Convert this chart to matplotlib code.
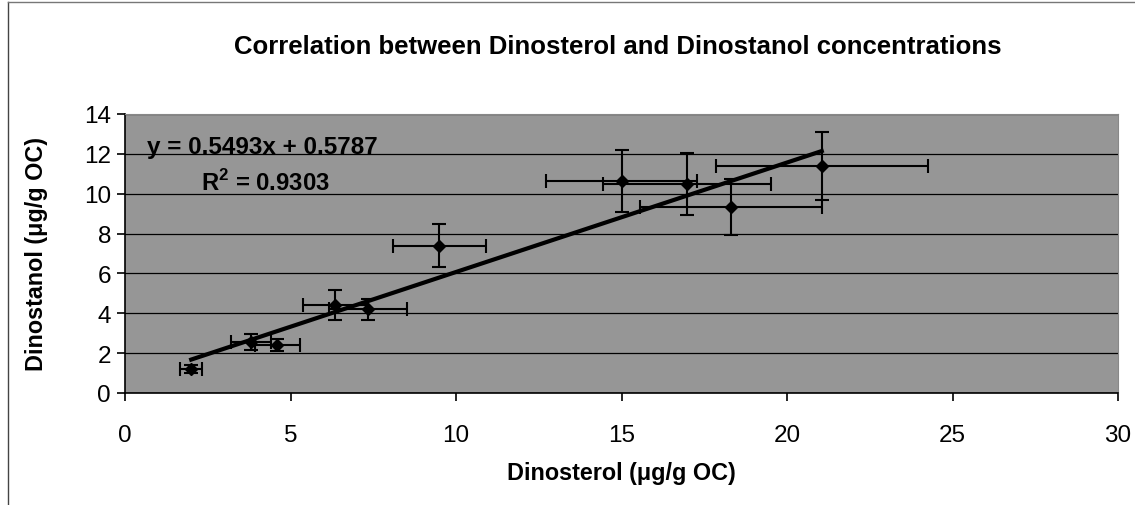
import matplotlib
matplotlib.use("Agg")
import matplotlib.pyplot as plt
import numpy as np
from matplotlib.lines import Line2D

plt.rcParams['font.family'] = ['Liberation Sans', 'DejaVu Sans']
plt.rcParams['mathtext.fontset'] = 'custom'
plt.rcParams['mathtext.rm'] = 'Liberation Sans:bold'
plt.rcParams['mathtext.bf'] = 'Liberation Sans:bold'

# Dinosterol vs Dinostanol (µg/g OC) with standard deviations
dinosterol = [2.0, 3.8, 4.6, 6.35, 7.35, 9.5, 15.0, 16.97, 18.3, 21.05]
dinostanol = [1.2, 2.55, 2.4, 4.4, 4.2, 7.4, 10.65, 10.5, 9.35, 11.4]
dinosterol_sd = [0.33, 0.6, 0.68, 0.96, 1.18, 1.41, 2.28, 2.54, 2.75, 3.2]
dinostanol_sd = [0.2, 0.4, 0.3, 0.75, 0.52, 1.1, 1.55, 1.55, 1.4, 1.7]

slope, intercept, r2 = 0.5493, 0.5787, 0.9303

x_ticks = [0, 5, 10, 15, 20, 25, 30]
y_ticks = [0, 2, 4, 6, 8, 10, 12, 14]

fig = plt.figure(figsize=(11.35, 5.06), dpi=100)
fig.patch.set_facecolor('white')

# chart frame
fig.add_artist(Line2D([8/1135, 8/1135], [0, 1 - 3/506], transform=fig.transFigure,
                      color='#444444', lw=1))
fig.add_artist(Line2D([8/1135, 1], [1 - 3/506, 1 - 3/506], transform=fig.transFigure,
                      color='#777777', lw=1))

ax = fig.add_axes([125/1135, 1 - 394/506, (1118 - 125)/1135, (394 - 115)/506])
ax.set_facecolor('#969696')
ax.set_xlim(0, 30)
ax.set_ylim(0, 14)
ax.set_xticks(x_ticks)
ax.set_yticks(y_ticks)
ax.yaxis.grid(True, color='black', lw=0.9)
ax.set_axisbelow(True)
for s in ['top', 'right']:
    ax.spines[s].set_color('#888888')
    ax.spines[s].set_linewidth(0.8)
for s in ['left', 'bottom']:
    ax.spines[s].set_color('black')
    ax.spines[s].set_linewidth(1.2)
ax.tick_params(direction='out', length=6, width=1.2, labelsize=17.5, pad=16)
ax.tick_params(axis='y', pad=4)

ax.errorbar(dinosterol, dinostanol, xerr=dinosterol_sd, yerr=dinostanol_sd,
            fmt='D', color='black', ms=6, elinewidth=1.5, capsize=5, capthick=1.5,
            zorder=3)

xs = np.array([min(dinosterol), max(dinosterol)])
ax.plot(xs, slope * xs + intercept, color='black', lw=3, zorder=4)

ax.text(0.66, 12.35, f'y = {slope}x + {intercept}', fontsize=17.5, fontweight='bold',
        va='center', ha='left')
ax.text(2.3, 10.6, r'R$^{2}$ = ' + f'{r2}', fontsize=17.2, fontweight='bold',
        va='center', ha='left')

ax.set_xlabel('Dinosterol (μg/g OC)', fontsize=16.8, fontweight='bold', labelpad=11)
ax.set_ylabel('Dinostanol (μg/g OC)', fontsize=16.8, fontweight='bold', labelpad=26)

fig.text(618/1135, 1 - 47/506, 'Correlation between Dinosterol and Dinostanol concentrations',
         ha='center', va='center', fontsize=18.5, fontweight='bold')

fig.savefig('out.png', dpi=100)
